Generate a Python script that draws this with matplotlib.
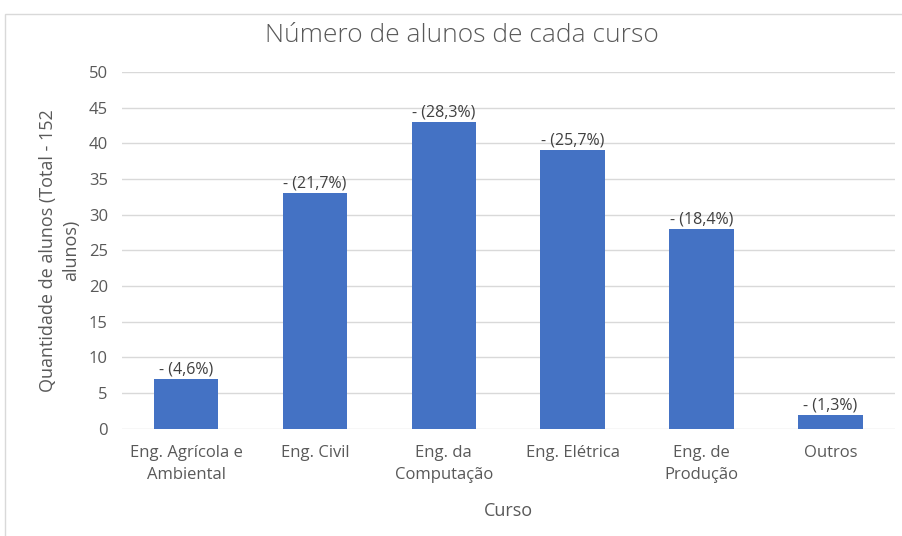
import matplotlib.pyplot as plt
from matplotlib.patches import Rectangle

# dados do grafico
cursos = ["Eng. Agrícola e\nAmbiental", "Eng. Civil", "Eng. da\nComputação",
          "Eng. Elétrica", "Eng. de\nProdução", "Outros"]
alunos = [7, 33, 43, 39, 28, 2]
percentuais = ["4,6", "21,7", "28,3", "25,7", "18,4", "1,3"]

plt.rcParams['font.family'] = ['Open Sans', 'DejaVu Sans']
cinza = "#595959"

fig = plt.figure(figsize=(9.02, 5.36), dpi=100)
ax = fig.add_axes([0.135, 0.2, 0.857, 0.666])

# moldura do grafico
fig.patches.append(Rectangle((5 / 902, -0.01), 1.0, 1 - 14 / 536 + 0.01,
                             transform=fig.transFigure, fill=False,
                             edgecolor="#d9d9d9", linewidth=1))

x = range(len(cursos))
bars = ax.bar(x, alunos, width=0.5, color="#4472c4", zorder=3)

for b, p in zip(bars, percentuais):
    ax.text(b.get_x() + b.get_width() / 2, b.get_height() + 0.2, "- (" + p + "%)",
            ha="center", va="bottom", fontsize=11.5, color="#404040")

ax.set_xlim(-0.5, 5.5)
ax.set_ylim(0, 50)
ax.set_yticks(range(0, 51, 5))
ax.set_xticks(list(x))
ax.set_xticklabels(cursos, fontsize=12, color=cinza, linespacing=1.45)
ax.tick_params(axis="y", labelsize=12, labelcolor=cinza, length=0, pad=10)
ax.tick_params(axis="x", length=0, pad=12)
ax.grid(axis="y", color="#d9d9d9", linewidth=1, zorder=0)
for s in ax.spines.values():
    s.set_visible(False)

fig.text(0.512, 0.933, "Número de alunos de cada curso", fontsize=19, color=cinza,
         ha="center", va="center", fontweight="light")
ax.set_xlabel("Curso", fontsize=13, color=cinza, labelpad=14)
ax.set_ylabel("Quantidade de alunos (Total - 152\nalunos)", fontsize=13,
              color=cinza, labelpad=6, linespacing=1.4)

fig.savefig("out.png", dpi=100)
